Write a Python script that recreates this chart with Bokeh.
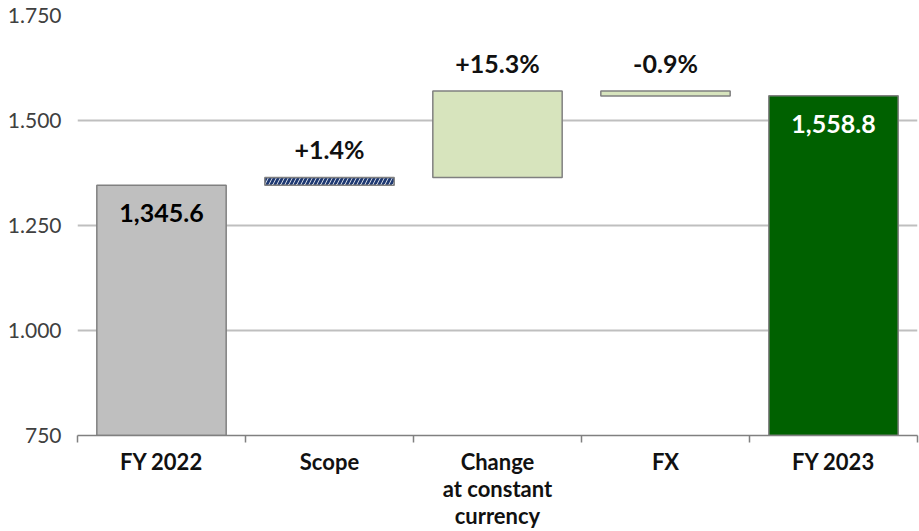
from bokeh.plotting import figure
from bokeh.models import ColumnDataSource, FixedTicker, LinearAxis, Range1d, Grid
from bokeh.core.properties import value
from bokeh.embed import file_html
from bokeh.resources import INLINE

# Revenue bridge FY 2022 -> FY 2023
categories = ["FY 2022", "Scope", "Change\nat constant\ncurrency", "FX", "FY 2023"]
fy2022_total = 1345.6
fy2023_total = 1558.8
step_pct = [1.4, 15.3, -0.9]          # Scope, Change at constant currency, FX
y_ticks = [750, 1000, 1250, 1500, 1750]
y_tick_labels = ["750", "1.000", "1.250", "1.500", "1.750"]

FONT = "Lato"
BAR_W = 0.77
EDGE = "#808080"

# Floating segments of the bridge
steps = [p / 100.0 * fy2022_total for p in step_pct]
levels = [fy2022_total]
for d in steps:
    levels.append(levels[-1] + d)

centers = [i + 0.5 for i in range(len(categories))]

p = figure(width=919, height=531, output_backend="svg", toolbar_location=None,
           x_range=Range1d(0, 5), y_range=Range1d(750, 1750),
           x_axis_type=None, y_axis_type=None,
           min_border_left=77, min_border_right=2,
           min_border_top=15, min_border_bottom=95)
p.outline_line_color = None
p.background_fill_color = "white"
p.border_fill_color = "white"

# Horizontal grid
p.add_layout(Grid(dimension=1, ticker=FixedTicker(ticks=y_ticks),
                  grid_line_color="#BFBFBF", grid_line_width=2))

# Totals
totals = ColumnDataSource(dict(x=[centers[0], centers[4]],
                               top=[fy2022_total, fy2023_total],
                               color=["#BFBFBF", "#006100"],
                               label=[f"{fy2022_total:,.1f}", f"{fy2023_total:,.1f}"],
                               tcolor=["#000000", "#FFFFFF"]))
p.vbar(x="x", top="top", bottom=750, width=BAR_W, fill_color="color",
       line_color=EDGE, line_width=1.5, source=totals)

# Scope (hatched)
p.vbar(x=[centers[1]], bottom=[levels[0]], top=[levels[1]], width=BAR_W,
       fill_color="white", line_color=EDGE, line_width=1.5,
       hatch_pattern="/", hatch_color="#1F3A73", hatch_weight=2.8, hatch_scale=8)

# Organic change and FX
p.vbar(x=[centers[2], centers[3]], bottom=[levels[1], levels[2]],
       top=[levels[2], levels[3]], width=BAR_W,
       fill_color="#D7E4BD", line_color=EDGE, line_width=1.5)

# Y axis
yaxis = LinearAxis(ticker=FixedTicker(ticks=y_ticks),
                   major_label_overrides={t: s for t, s in zip(y_ticks, y_tick_labels)})
yaxis.axis_line_color = None
yaxis.major_tick_line_color = None
yaxis.minor_tick_line_color = None
yaxis.major_tick_out = 0
yaxis.major_tick_in = 0
yaxis.major_label_standoff = 16
yaxis.major_label_text_font = FONT
yaxis.major_label_text_font_size = "21px"
yaxis.major_label_text_color = "#404040"
p.add_layout(yaxis, "left")

# X axis: labels at category centres, ticks at category boundaries
xaxis = LinearAxis(ticker=FixedTicker(ticks=centers, minor_ticks=list(range(6))),
                   major_label_overrides={c: s for c, s in zip(centers, categories)})
xaxis.axis_line_color = EDGE
xaxis.axis_line_width = 1.5
xaxis.major_tick_line_color = None
xaxis.major_tick_out = 0
xaxis.major_tick_in = 0
xaxis.minor_tick_line_color = EDGE
xaxis.minor_tick_line_width = 1.5
xaxis.minor_tick_out = 7
xaxis.minor_tick_in = 0
xaxis.major_label_standoff = 5
xaxis.major_label_text_font = FONT
xaxis.major_label_text_font_style = "bold"
xaxis.major_label_text_font_size = "22px"
xaxis.major_label_text_line_height = 1.0
xaxis.major_label_text_color = "#111111"
p.add_layout(xaxis, "below")

# Value labels inside the total bars
p.text(x="x", y="top", text="label", text_color="tcolor", source=totals,
       text_font=value(FONT), text_font_style="bold", text_font_size="25px",
       text_align="center", text_baseline="middle", y_offset=28)

# Percentage labels above the steps
pct_text = [f"{v:+.1f}%" for v in step_pct]
pct_y = [max(levels[i], levels[i + 1]) for i in range(3)]
p.text(x=centers[1:4], y=pct_y, text=pct_text, text_color="#111111",
       text_font=value(FONT), text_font_style="bold", text_font_size="25px",
       text_align="center", text_baseline="middle", y_offset=-28)

open("out.html", "w").write(file_html(p, INLINE))
